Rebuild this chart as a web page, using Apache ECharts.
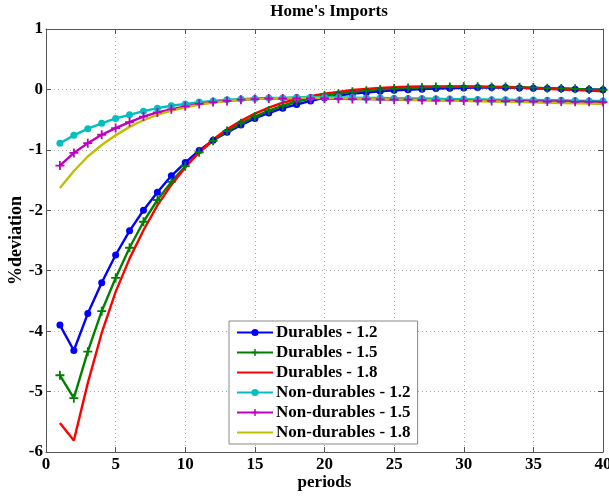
<!DOCTYPE html>
<html>
<head>
<meta charset="utf-8">
<script src="https://cdn.jsdelivr.net/npm/echarts@6/dist/echarts.min.js"></script>
<style>
  html, body { margin: 0; padding: 0; background: #fff; }
  #chart { width: 609px; height: 500px; }
</style>
</head>
<body>
<div id="chart"></div>
<script>
// Impulse responses of home imports, periods 1..40
const periods = Array.from({ length: 40 }, (_, i) => i + 1);

const durables12 = [-3.90, -4.32, -3.71, -3.20, -2.74, -2.34, -2.00, -1.70, -1.43, -1.21,
  -1.01, -0.84, -0.71, -0.59, -0.48, -0.39, -0.31, -0.25, -0.19, -0.14,
  -0.10, -0.07, -0.05, -0.03, -0.015, -0.005, 0.005, 0.015, 0.02, 0.025,
  0.03, 0.03, 0.03, 0.025, 0.02, 0.015, 0.01, 0.005, 0.0, -0.005];

const durables15 = [-4.73, -5.11, -4.34, -3.67, -3.12, -2.62, -2.19, -1.83, -1.53, -1.27,
  -1.04, -0.85, -0.69, -0.56, -0.45, -0.35, -0.27, -0.20, -0.15, -0.10,
  -0.07, -0.04, -0.02, 0.0, 0.015, 0.025, 0.03, 0.04, 0.04, 0.045,
  0.045, 0.04, 0.04, 0.035, 0.03, 0.02, 0.015, 0.01, 0.0, -0.005];

const durables18 = [-5.52, -5.81, -4.86, -4.03, -3.35, -2.80, -2.33, -1.92, -1.58, -1.29,
  -1.04, -0.83, -0.66, -0.52, -0.40, -0.30, -0.22, -0.16, -0.11, -0.07,
  -0.04, -0.01, 0.01, 0.025, 0.035, 0.045, 0.05, 0.05, 0.05, 0.05,
  0.045, 0.04, 0.035, 0.03, 0.02, 0.01, 0.0, -0.01, -0.02, -0.03];

const nonDurables12 = [-0.89, -0.76, -0.65, -0.56, -0.48, -0.42, -0.36, -0.31, -0.27, -0.24,
  -0.21, -0.19, -0.17, -0.16, -0.15, -0.14, -0.14, -0.13, -0.13, -0.13,
  -0.13, -0.135, -0.14, -0.14, -0.145, -0.15, -0.15, -0.155, -0.16, -0.16,
  -0.165, -0.17, -0.17, -0.175, -0.175, -0.18, -0.18, -0.185, -0.19, -0.19];

const nonDurables15 = [-1.26, -1.05, -0.89, -0.75, -0.64, -0.54, -0.45, -0.38, -0.33, -0.28,
  -0.24, -0.21, -0.19, -0.17, -0.16, -0.15, -0.15, -0.15, -0.15, -0.15,
  -0.155, -0.16, -0.16, -0.165, -0.17, -0.17, -0.175, -0.18, -0.18, -0.185,
  -0.19, -0.19, -0.195, -0.195, -0.20, -0.20, -0.20, -0.205, -0.205, -0.21];

const nonDurables18 = [-1.63, -1.35, -1.11, -0.92, -0.76, -0.62, -0.51, -0.42, -0.35, -0.30,
  -0.25, -0.22, -0.19, -0.17, -0.16, -0.15, -0.145, -0.14, -0.14, -0.14,
  -0.145, -0.15, -0.155, -0.16, -0.165, -0.17, -0.175, -0.18, -0.185, -0.19,
  -0.195, -0.20, -0.205, -0.21, -0.215, -0.22, -0.225, -0.23, -0.235, -0.24];

const seriesNames = ['Durables - 1.2', 'Durables - 1.5', 'Durables - 1.8',
  'Non-durables - 1.2', 'Non-durables - 1.5', 'Non-durables - 1.8'];

const xTicks = [0, 5, 10, 15, 20, 25, 30, 35, 40];
const yTicks = [1, 0, -1, -2, -3, -4, -5, -6];

const FONT = '"Liberation Serif", "Times New Roman", serif';
const PLUS = 'path://M4,0h2v4h4v2h-4v4h-2v-4h-4v-2h4z';
const colors = ['#0000ff', '#008000', '#ff0000', '#00bfbf', '#bf00bf', '#bfbf00'];
const symbols = ['circle', PLUS, null, 'circle', PLUS, null];
const seriesValues = [durables12, durables15, durables18, nonDurables12, nonDurables15, nonDurables18];

function pairs(vals) {
  return periods.map((p, i) => [p, vals[i]]);
}

function lineSeries(name, vals, color, symbol) {
  return {
    name: name,
    type: 'line',
    data: pairs(vals),
    xAxisIndex: 0,
    yAxisIndex: 0,
    symbol: symbol || 'none',
    symbolSize: symbol === 'circle' ? 7 : 9,
    showSymbol: !!symbol,
    lineStyle: { color: color, width: 2.4 },
    itemStyle: { color: color, borderWidth: 0 },
    emphasis: { disabled: true },
    animation: false,
    z: 3
  };
}

// legend entries: plain lines get an invisible marker
const legendData = seriesNames.map((n, i) => symbols[i]
  ? { name: n }
  : { name: n, itemStyle: { opacity: 0 } });

const chart = echarts.init(document.getElementById('chart'), null, { renderer: 'canvas' });

const axisLineStyle = { show: true, onZero: false, lineStyle: { color: '#555', width: 1 } };
const tickStyle = { show: true, inside: true, length: 5, lineStyle: { color: '#555' } };
const labelFont = { fontFamily: FONT, fontWeight: 'bold', fontSize: 17, color: '#000' };

chart.setOption({
  backgroundColor: '#fff',
  animation: false,
  title: {
    text: "Home's Imports",
    left: 324,
    textAlign: 'center',
    top: -2,
    textStyle: { fontFamily: FONT, fontWeight: 'bold', fontSize: 17, color: '#000' }
  },
  grid: { left: 46, right: 6, top: 29, bottom: 48, containLabel: false, outerBoundsMode: 'none' },
  legend: {
    orient: 'vertical',
    left: 229,
    top: 321,
    backgroundColor: '#fff',
    borderColor: '#888',
    borderWidth: 1,
    borderRadius: 0,
    padding: [3, 7, 3, 7],
    itemWidth: 36,
    itemHeight: 9,
    itemGap: 3,
    textStyle: Object.assign({}, labelFont, { lineHeight: 17, padding: [0, 0, 0, -2] }),
    data: legendData
  },
  xAxis: [{
    type: 'value',
    min: 0, max: 40, interval: 5,
    name: 'periods',
    nameLocation: 'middle',
    nameGap: 22,
    nameMoveOverlap: false,
    nameTextStyle: labelFont,
    axisLine: axisLineStyle,
    axisTick: tickStyle,
    axisLabel: Object.assign({}, labelFont, {
      margin: 4,
      formatter: v => xTicks.includes(v) ? String(v) : ''
    }),
    splitLine: { show: true, lineStyle: { color: '#aaa', type: [1, 3], width: 1 } }
  }, {
    type: 'value', position: 'top',
    min: 0, max: 40, interval: 5,
    axisLine: axisLineStyle,
    axisTick: tickStyle,
    axisLabel: { show: false },
    splitLine: { show: false }
  }],
  yAxis: [{
    type: 'value',
    min: -6, max: 1, interval: 1,
    name: '%deviation',
    nameLocation: 'middle',
    nameGap: 21,
    nameMoveOverlap: false,
    nameRotate: 90,
    nameTextStyle: Object.assign({}, labelFont, { fontSize: 18 }),
    axisLine: axisLineStyle,
    axisTick: tickStyle,
    axisLabel: Object.assign({}, labelFont, {
      margin: 3,
      formatter: v => yTicks.includes(v) ? String(v) : ''
    }),
    splitLine: { show: true, lineStyle: { color: '#aaa', type: [1, 3], width: 1 } }
  }, {
    type: 'value', position: 'right',
    min: -6, max: 1, interval: 1,
    axisLine: axisLineStyle,
    axisTick: tickStyle,
    axisLabel: { show: false },
    splitLine: { show: false }
  }],
  series: seriesNames.map((n, i) => lineSeries(n, seriesValues[i], colors[i], symbols[i]))
});
</script>
</body>
</html>
